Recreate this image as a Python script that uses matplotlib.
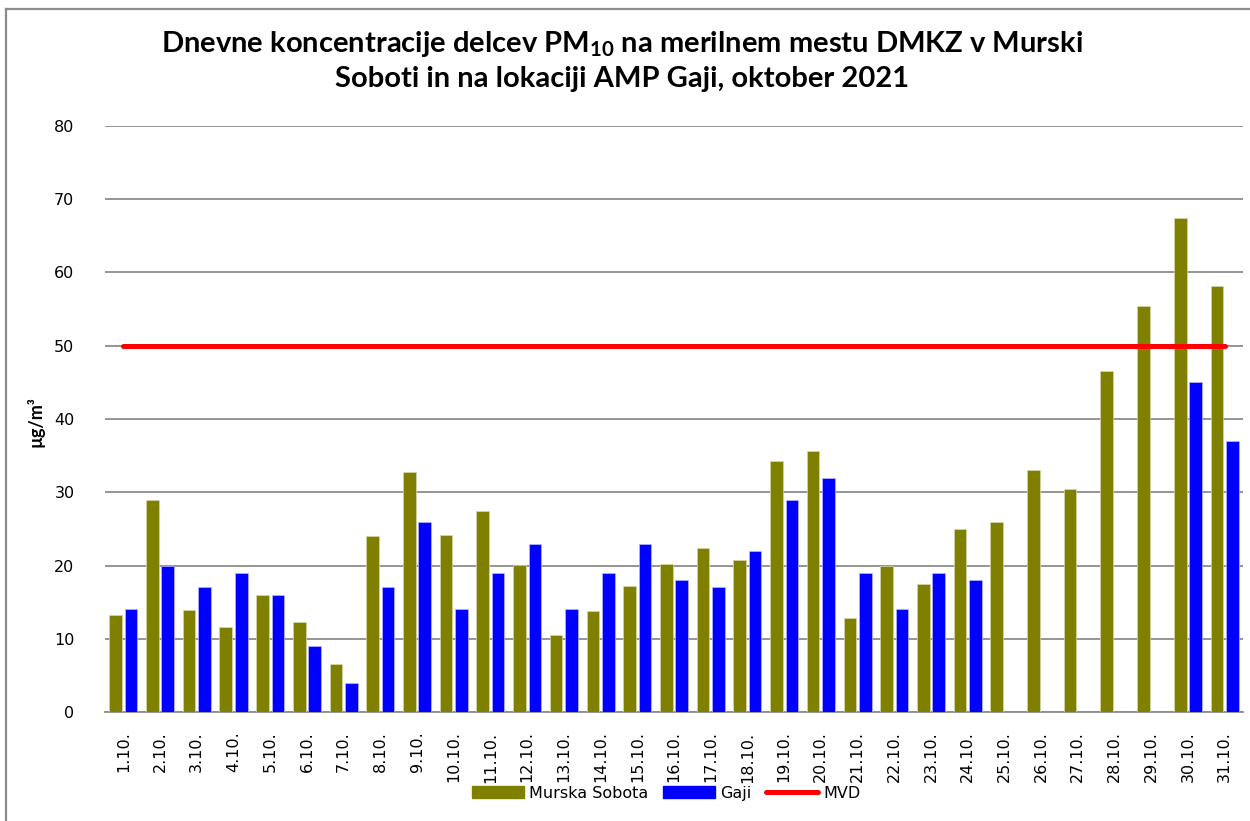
import matplotlib
matplotlib.use("Agg")
import matplotlib.pyplot as plt
from matplotlib.lines import Line2D
from matplotlib.patches import Patch
import numpy as np

days = ["1.10.", "2.10.", "3.10.", "4.10.", "5.10.", "6.10.", "7.10.", "8.10.", "9.10.", "10.10.",
        "11.10.", "12.10.", "13.10.", "14.10.", "15.10.", "16.10.", "17.10.", "18.10.", "19.10.", "20.10.",
        "21.10.", "22.10.", "23.10.", "24.10.", "25.10.", "26.10.", "27.10.", "28.10.", "29.10.", "30.10.", "31.10."]
murska_sobota = [13.2, 28.9, 13.9, 11.6, 16.0, 12.3, 6.5, 24.0, 32.7, 24.2,
                 27.4, 20.1, 10.5, 13.8, 17.2, 20.2, 22.4, 20.7, 34.2, 35.6,
                 12.9, 20.0, 17.5, 25.0, 25.9, 33.1, 30.5, 46.6, 55.4, 67.4, 58.1]
gaji = [14, 20, 17, 19, 16, 9, 4, 17, 26, 14,
        19, 23, 14, 19, 23, 18, 17, 22, 29, 32,
        19, 14, 19, 18, np.nan, np.nan, np.nan, np.nan, np.nan, 45, 37]
mvd = [50] * len(days)
yticks = [0, 10, 20, 30, 40, 50, 60, 70, 80]

OLIVE = "#808000"
BLUE = "#0000FF"
RED = "#FF0000"
GRID = "#8C8C8C"

plt.rcParams["mathtext.fontset"] = "custom"
plt.rcParams["mathtext.rm"] = "Lato:bold"
plt.rcParams["mathtext.bf"] = "Lato:bold"
plt.rcParams["mathtext.default"] = "rm"

W, H = 1250, 821
fig = plt.figure(figsize=(W / 100, H / 100), dpi=100)

# figure border (top and left visible)
fig.add_artist(Line2D([5.5 / W, 5.5 / W], [0, 1 - 9.5 / H], transform=fig.transFigure, color=GRID, lw=1.6))
fig.add_artist(Line2D([5.5 / W, 1], [1 - 9.5 / H, 1 - 9.5 / H], transform=fig.transFigure, color=GRID, lw=1.6))

left, right = 105 / W, 1243 / W
bottom, top = 1 - 712 / H, 1 - 126 / H
ax = fig.add_axes([left, bottom, right - left, top - bottom])

x = np.arange(len(days))
bw = 0.345
off = 0.21
ax.bar(x - off, murska_sobota, width=bw, color=OLIVE, edgecolor="#d8d6a8", linewidth=0.5, zorder=3)
ax.bar(x + off, gaji, width=bw, color=BLUE, edgecolor="#b8b8ff", linewidth=0.5, zorder=3)
ax.plot(x, mvd, color=RED, lw=3.6, solid_capstyle="round", zorder=4)

ax.set_xlim(-0.5, len(days) - 0.5)
ax.set_ylim(0, 80)
ax.set_yticks(yticks)
ax.yaxis.grid(True, color=GRID, lw=1.3, zorder=0)
ax.set_axisbelow(True)
for s in ["top", "right", "left"]:
    ax.spines[s].set_visible(False)
ax.spines["bottom"].set_color(GRID)
ax.spines["bottom"].set_linewidth(1.3)
ax.tick_params(axis="y", length=0, pad=22, labelsize=11.5, labelcolor="black")
ax.set_xticks(x)
ax.set_xticklabels(days, rotation=90, fontsize=11.5)
ax.tick_params(axis="x", length=0, pad=14)

ax.set_ylabel("µg/m³", fontsize=13, fontweight="bold", family="Lato")
ax.yaxis.set_label_coords((45 - 105) / (1243 - 105), (712 - 422) / (712 - 126))

fig.text(622 / W, 1 - 44 / H, "Dnevne koncentracije delcev PM$_{10}$ na merilnem mestu DMKZ v Murski",
         ha="center", va="center", fontsize=21, fontweight="bold", family="Lato")
fig.text(622 / W, 1 - 79 / H, "Soboti in na lokaciji AMP Gaji, oktober 2021",
         ha="center", va="center", fontsize=21, fontweight="bold", family="Lato")

handles = [Patch(facecolor=OLIVE, edgecolor=OLIVE), Patch(facecolor=BLUE, edgecolor=BLUE),
           Line2D([0], [0], color=RED, lw=3.6, solid_capstyle="round")]
fig.legend(handles, ["Murska Sobota", "Gaji", "MVD"], loc="center", bbox_to_anchor=(666 / W, 1 - 793 / H),
           ncol=3, frameon=False, fontsize=11.5, handlelength=3.3, handleheight=0.75,
           handletextpad=0.3, columnspacing=0.9, borderpad=0)

fig.savefig("out.png", dpi=100)
